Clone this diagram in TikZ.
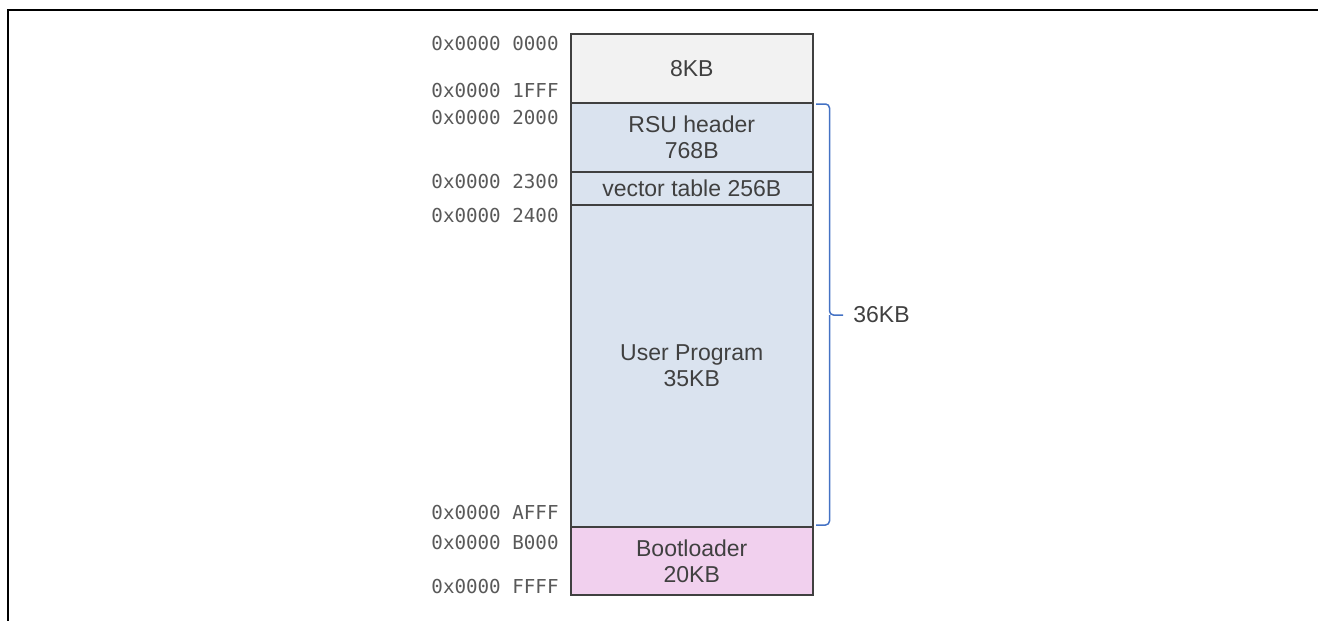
\documentclass[tikz,border=0pt]{standalone}
\usepackage{fontspec}
\setmainfont{Liberation Sans}
\setmonofont{DejaVu Sans Mono}
\usepackage{tikz}
\usetikzlibrary{calc}
\definecolor{Edge}{RGB}{64, 64, 64}
\definecolor{Body}{RGB}{64, 64, 64}
\definecolor{Addr}{RGB}{89, 89, 89}
\definecolor{Reserved}{RGB}{242, 242, 242}
\definecolor{App}{RGB}{218, 227, 239}
\definecolor{Boot}{RGB}{241, 208, 238}
\definecolor{Brace}{RGB}{68, 114, 196}

\begin{document}
\begin{tikzpicture}[x=0.5pt, y=-0.5pt,
    region/.style={draw=Edge, line width=1pt, minimum width=121.25pt, inner sep=0pt, outer sep=0pt,
        align=center, text=Body, font=\fontsize{11.5}{13}\selectfont},
    addr/.style={anchor=east, inner sep=0pt, text=Addr, font=\ttfamily\fontsize{9.6}{11}\selectfont}]
    %% Background
    \useasboundingbox (0,0) rectangle (1318,621);
    \draw[line width=1pt] (8.2,621) -- (8.2,10.3) -- (1318,10.3);

    %% Memory regions
    \node[region, fill=Reserved, minimum height=34.5pt] (reserved) at (691.75,68.5) {8KB};
    \node[region, fill=App, minimum height=34.5pt] (rsu) at (691.75,137.5) {RSU header\\768B};
    \node[region, fill=App, minimum height=16.5pt] (vectors) at (691.75,188.5) {vector table 256B};
    \node[region, fill=App, minimum height=161pt] (user) at (691.75,366) {User Program\\35KB};
    \node[region, fill=Boot, minimum height=34pt] (boot) at (691.75,561) {Bootloader\\20KB};

    %% Addresses
    \node[addr] (a0000) at (559,44) {0x0000 0000};
    \node[addr] (a1fff) at (559,91) {0x0000 1FFF};
    \node[addr] (a2000) at (559,118) {0x0000 2000};
    \node[addr] (a2300) at (559,182) {0x0000 2300};
    \node[addr] (a2400) at (559,216) {0x0000 2400};
    \node[addr] (aafff) at (559,513) {0x0000 AFFF};
    \node[addr] (ab000) at (559,543) {0x0000 B000};
    \node[addr] (affff) at (559,587) {0x0000 FFFF};

    %% Brace over the application area
    \node[anchor=west, inner sep=0pt, text=Body, font=\fontsize{11.5}{13}\selectfont] (appsize) at (853,315) {36KB};
    \coordinate (btop) at ($(rsu.north east)+(3,1)$);
    \coordinate (bbot) at ($(user.south east)+(3,-2)$);
    \coordinate (bmid) at (829.5,315);
    \coordinate (btip) at ($(appsize.west)+(-10,0)$);
    \draw[Brace, line width=0.75pt, rounded corners=2pt]
    (btop) -| (bmid) -- (btip)
    (bbot) -| (bmid)
    ;
\end{tikzpicture}
\end{document}
